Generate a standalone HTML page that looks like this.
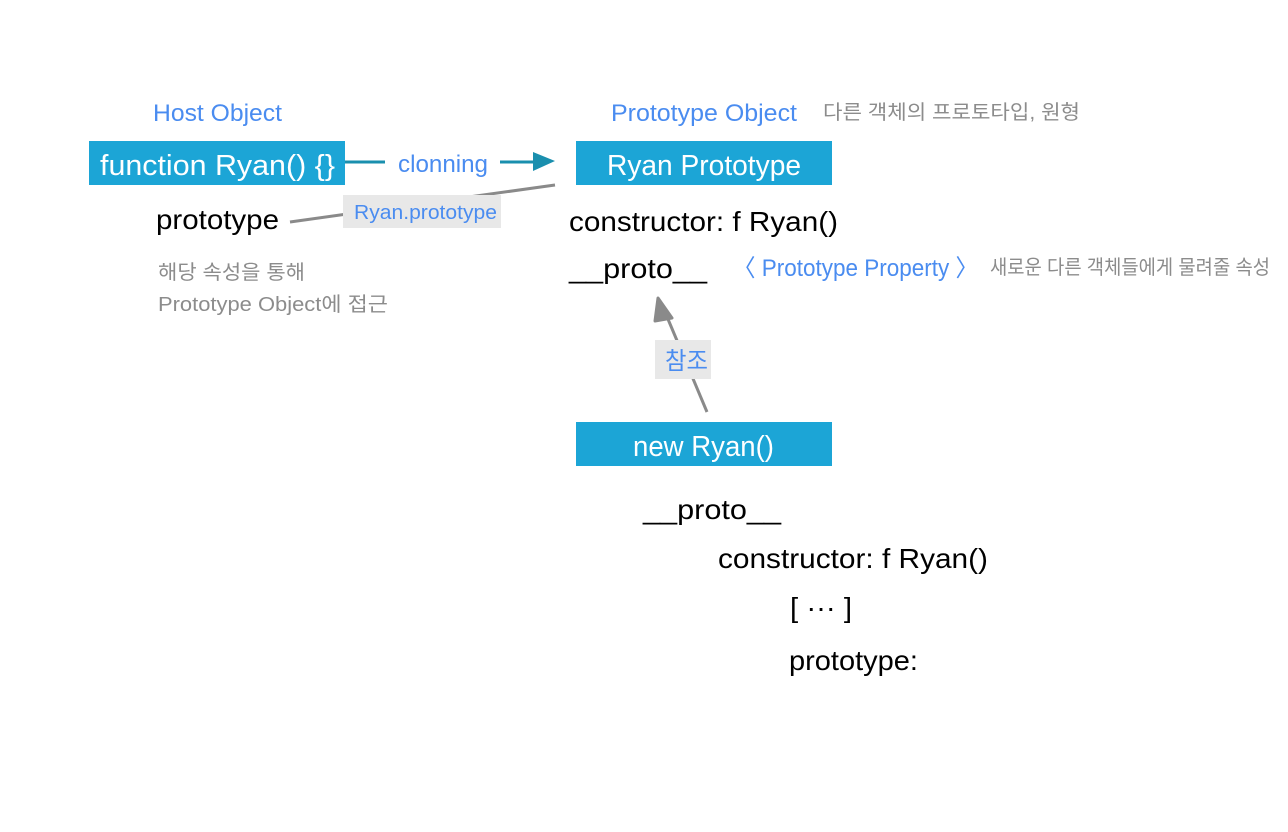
<!DOCTYPE html>
<html><head><meta charset="utf-8"><style>html,body{margin:0;padding:0;background:#fff;}svg{display:block}</style></head>
<body>
<svg width="1288" height="832" viewBox="0 0 1288 832" xmlns="http://www.w3.org/2000/svg" font-family="Liberation Sans, Noto Sans CJK KR, sans-serif">
<rect width="1288" height="832" fill="#fff"/>
<rect x="89" y="141" width="256" height="44" fill="#1ca5d6"/>
<rect x="576" y="141" width="256" height="44" fill="#1ca5d6"/>
<rect x="576" y="422" width="256" height="44" fill="#1ca5d6"/>
<line x1="345" y1="162" x2="385" y2="162" stroke="#1a8fae" stroke-width="3"/>
<line x1="500" y1="162" x2="535" y2="162" stroke="#1a8fae" stroke-width="3"/>
<polygon points="533,152 555,161 533,171" fill="#1a8fae"/>
<line x1="290" y1="222" x2="555" y2="185" stroke="#8a8a8a" stroke-width="3"/>
<rect x="343" y="195" width="158" height="33" fill="#e8e8e8"/>
<line x1="707" y1="412" x2="665" y2="312" stroke="#8a8a8a" stroke-width="3"/>
<polygon points="658,298 672,318 655,321" fill="#8a8a8a" stroke="#8a8a8a" stroke-width="3" stroke-linejoin="round"/>
<rect x="655" y="340" width="56" height="39" fill="#e8e8e8"/>
<g font-size="24" fill="#4a8cf0">
<text x="153" y="121" textLength="129" lengthAdjust="spacingAndGlyphs">Host Object</text>
<text x="611" y="121" textLength="186" lengthAdjust="spacingAndGlyphs">Prototype Object</text>
<text x="398" y="172" textLength="90" lengthAdjust="spacingAndGlyphs">clonning</text>
<text x="733" y="276" textLength="245" lengthAdjust="spacingAndGlyphs">〈 Prototype Property 〉</text>
<text x="665" y="369" textLength="43" lengthAdjust="spacingAndGlyphs">참조</text>
<text x="354" y="219" font-size="20" textLength="143" lengthAdjust="spacingAndGlyphs">Ryan.prototype</text>
</g>
<g font-size="20" fill="#8c8c8c">
<text x="823" y="119" textLength="257" lengthAdjust="spacingAndGlyphs">다른 객체의 프로토타입, 원형</text>
<text x="158" y="279" textLength="147" lengthAdjust="spacingAndGlyphs">해당 속성을 통해</text>
<text x="158" y="311" textLength="230" lengthAdjust="spacingAndGlyphs">Prototype Object에 접근</text>
<text x="990" y="274" textLength="280" lengthAdjust="spacingAndGlyphs">새로운 다른 객체들에게 물려줄 속성</text>
</g>
<g font-size="29" fill="#fff">
<text x="100" y="175" textLength="235" lengthAdjust="spacingAndGlyphs">function Ryan() {}</text>
<text x="607" y="175" textLength="194" lengthAdjust="spacingAndGlyphs">Ryan Prototype</text>
<text x="633" y="456" textLength="141" lengthAdjust="spacingAndGlyphs">new Ryan()</text>
</g>
<g font-size="28" fill="#000">
<text x="156" y="229" textLength="123" lengthAdjust="spacingAndGlyphs">prototype</text>
<text x="569" y="231" textLength="269" lengthAdjust="spacingAndGlyphs">constructor: f Ryan()</text>
<text x="569" y="278" textLength="138" lengthAdjust="spacingAndGlyphs">__proto__</text>
<text x="643" y="519" textLength="138" lengthAdjust="spacingAndGlyphs">__proto__</text>
<text x="718" y="568" textLength="270" lengthAdjust="spacingAndGlyphs">constructor: f Ryan()</text>
<text x="790" y="617" textLength="62" lengthAdjust="spacingAndGlyphs">[ ··· ]</text>
<text x="789" y="670" textLength="129" lengthAdjust="spacingAndGlyphs">prototype:</text>
</g>
</svg>
</body></html>
